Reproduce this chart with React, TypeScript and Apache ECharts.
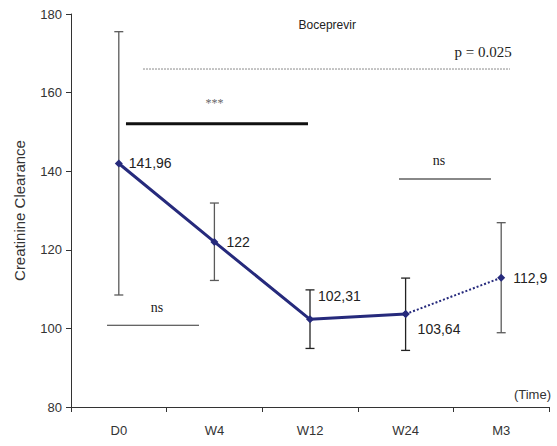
import React, { useEffect, useRef } from "react";
import * as echarts from "echarts";

const categories = ["D0", "W4", "W12", "W24", "M3"];
const means = [141.96, 122, 102.31, 103.64, 112.9];
const meanLabels = ["141,96", "122", "102,31", "103,64", "112,9"];
const errLow = [108.5, 112.2, 94.9, 94.4, 98.9];
const errHigh = [175.5, 131.9, 109.8, 112.8, 126.9];
const errColors = ["#5a5a5a", "#5a5a5a", "#222222", "#222222", "#5a5a5a"];
const yTicks = { min: 80, max: 180, interval: 20 };

// significance brackets, positions in category units
const bracketX1 = [0.253, 0.075, 2.931, -0.123];
const bracketX2 = [4.092, 1.979, 3.893, 0.839];
const bracketY = [166, 152.1, 138, 100.8];
const bracketText = ["p = 0.025", "***", "ns", "ns"];
const bracketTextX = [4.11, 1.0, 3.35, 0.4];
const bracketTextY = [170.4, 157.3, 142.8, 105.2];

const NAVY = "#262a7c";
const SANS = "'Liberation Sans', Arial, sans-serif";
const SERIF = "'Liberation Serif', 'Times New Roman', serif";

export default function App() {
  const ref = useRef<HTMLDivElement>(null);
  useEffect(() => {
    if (!ref.current) return;
    const chart = echarts.init(ref.current, null, { renderer: "svg" });
    const labelOffsets: Record<number, any> = {
      0: { position: "right", distance: 6 },
      1: { position: "right", distance: 8 },
      2: { position: "right", distance: 0, offset: [4, -23] },
      3: { position: "right", distance: 0, offset: [8, 15] },
      4: { position: "right", distance: 8 },
    };
    const labelBase = {
      show: true,
      color: "#222",
      fontSize: 14,
      fontFamily: SANS,
    };
    const solidData = means.map((v, i) =>
      i <= 3
        ? { value: v, label: { ...labelBase, ...labelOffsets[i], formatter: meanLabels[i] } }
        : "-"
    );
    const dottedData = means.map((v, i) =>
      i >= 3
        ? {
            value: v,
            label:
              i === 4
                ? { ...labelBase, ...labelOffsets[i], formatter: meanLabels[i] }
                : { show: false },
          }
        : "-"
    );
    const bracketStyles = [
      { stroke: "#8a8a8a", lineWidth: 1, lineDash: [2, 1] },
      { stroke: "#111111", lineWidth: 3 },
      { stroke: "#888888", lineWidth: 2 },
      { stroke: "#333333", lineWidth: 1 },
    ];
    const textStyles = [
      { fill: "#222", font: `15px ${SERIF}`, align: "right" },
      { fill: "#666", font: `12px ${SERIF}`, align: "center" },
      { fill: "#222", font: `14px ${SERIF}`, align: "center" },
      { fill: "#222", font: `14px ${SERIF}`, align: "center" },
    ];

    chart.setOption({
      animation: false,
      grid: { left: 71, right: 8, top: 14, bottom: 39, containLabel: false },
      xAxis: [
        {
          type: "category",
          data: categories,
          boundaryGap: true,
          axisLine: { onZero: false, lineStyle: { color: "#333", width: 1 } },
          axisTick: { show: true, length: 5, lineStyle: { color: "#333" } },
          axisLabel: {
            color: "#333",
            fontSize: 13,
            fontFamily: SANS,
            margin: 17,
          },
        },
        { type: "value", min: -0.5, max: 4.5, show: false, axisLine: { onZero: false } },
      ],
      yAxis: {
        type: "value",
        min: yTicks.min,
        max: yTicks.max,
        interval: yTicks.interval,
        name: "Creatinine Clearance",
        nameLocation: "middle",
        nameGap: 44,
        nameTextStyle: {
          color: "#333",
          fontSize: 15,
          fontFamily: SANS,
        },
        axisLine: { show: true, onZero: false, lineStyle: { color: "#333", width: 1 } },
        axisTick: { show: true, length: 5, lineStyle: { color: "#333" } },
        splitLine: { show: false },
        axisLabel: {
          color: "#333",
          fontSize: 13,
          fontFamily: SANS,
          margin: 9,
        },
      },
      graphic: [
        {
          type: "text",
          right: 6,
          top: 388,
          style: {
            text: "(Time)",
            fill: "#333",
            font: `13px ${SANS}`,
          },
        },
      ],
      series: [
        {
          type: "custom",
          name: "errors",
          xAxisIndex: 0,
          data: categories.map((_, i) => [i, errLow[i], errHigh[i]]),
          z: 1,
          renderItem: (params: any, api: any) => {
            const i = params.dataIndex;
            const lo = api.coord([api.value(0), api.value(1)]);
            const hi = api.coord([api.value(0), api.value(2)]);
            const w = 4.5;
            const style = { stroke: errColors[i], lineWidth: 1.3 };
            return {
              type: "group",
              children: [
                { type: "line", shape: { x1: lo[0], y1: lo[1], x2: hi[0], y2: hi[1] }, style },
                { type: "line", shape: { x1: lo[0] - w, y1: lo[1], x2: lo[0] + w, y2: lo[1] }, style },
                { type: "line", shape: { x1: hi[0] - w, y1: hi[1], x2: hi[0] + w, y2: hi[1] }, style },
              ],
            };
          },
        },
        {
          type: "line",
          name: "solid",
          data: solidData,
          z: 3,
          symbol: "diamond",
          symbolSize: 8,
          lineStyle: { color: NAVY, width: 3 },
          itemStyle: { color: NAVY },
          connectNulls: false,
        },
        {
          type: "line",
          name: "dotted",
          data: dottedData,
          z: 3,
          symbol: "diamond",
          symbolSize: 8,
          lineStyle: { color: NAVY, width: 2, type: [2, 2] },
          itemStyle: { color: NAVY },
        },
        {
          type: "custom",
          name: "brackets",
          xAxisIndex: 1,
          data: bracketY.map((y, i) => [bracketX1[i], bracketX2[i], y, bracketTextX[i], bracketTextY[i]]),
          z: 2,
          renderItem: (params: any, api: any) => {
            const i = params.dataIndex;
            const a = api.coord([api.value(0), api.value(2)]);
            const b = api.coord([api.value(1), api.value(2)]);
            const t = api.coord([api.value(3), api.value(4)]);
            return {
              type: "group",
              children: [
                {
                  type: "line",
                  shape: { x1: a[0], y1: a[1], x2: b[0], y2: b[1] },
                  style: bracketStyles[i],
                },
                {
                  type: "text",
                  x: t[0],
                  y: t[1],
                  style: {
                    text: bracketText[i],
                    fill: textStyles[i].fill,
                    font: textStyles[i].font,
                    align: textStyles[i].align,
                    verticalAlign: "middle",
                  },
                },
              ],
            };
          },
        },
        {
          type: "custom",
          name: "title",
          xAxisIndex: 1,
          data: [[2.18, 177.2]],
          renderItem: (params: any, api: any) => {
            const p = api.coord([api.value(0), api.value(1)]);
            return {
              type: "text",
              x: p[0],
              y: p[1],
              style: {
                text: "Boceprevir",
                fill: "#222",
                font: `12px ${SANS}`,
                align: "center",
                verticalAlign: "middle",
              },
            };
          },
        },
      ],
    });
    return () => chart.dispose();
  }, []);
  return (
    <div
      ref={ref}
      style={{ position: "absolute", left: 0, top: 0, width: 557, height: 446 }}
    />
  );
}
